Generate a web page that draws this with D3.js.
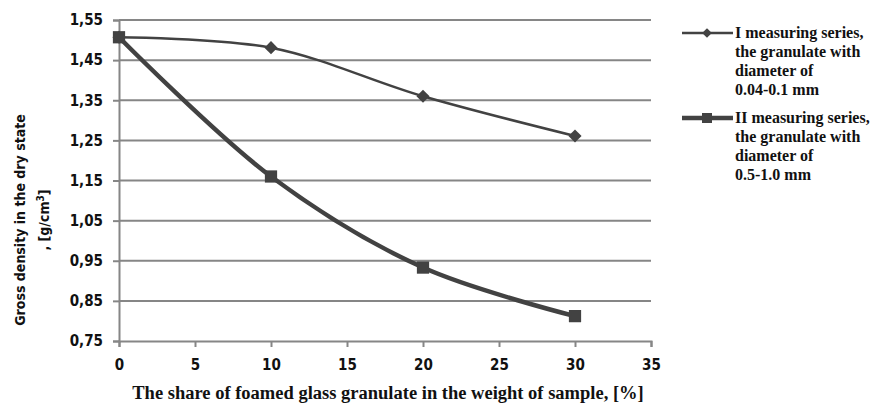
<!DOCTYPE html>
<html>
<head>
<meta charset="utf-8">
<script src="https://cdn.jsdelivr.net/npm/d3@7"></script>
<style>
  body { margin: 0; background: #fff; }
  svg text { fill: #111; }
</style>
</head>
<body>
<svg id="chart" width="870" height="405"></svg>
<script>
const shares = [0, 10, 20, 30];
const seriesOne = [1.507, 1.481, 1.36, 1.261];
const seriesTwo = [1.507, 1.16, 0.933, 0.812];
const seriesNames = [
  ["I measuring series,", "the granulate with", "diameter of", "0.04-0.1 mm"],
  ["II measuring series,", "the granulate with", "diameter of", "0.5-1.0 mm"]
];
const yTicks = [0.75, 0.85, 0.95, 1.05, 1.15, 1.25, 1.35, 1.45, 1.55];
const xTicks = [0, 5, 10, 15, 20, 25, 30, 35];

const svg = d3.select("#chart");
const ink = "#424242";
const sans = "'DejaVu Sans Condensed', 'DejaVu Sans', sans-serif";
const serif = "'Liberation Serif', serif";

const x = d3.scaleLinear().domain([0, 35]).range([119, 651]);
const y = d3.scaleLinear().domain([0.75, 1.55]).range([341, 20]);

// grid
svg.append("g")
  .selectAll("line")
  .data(yTicks.slice(1))
  .enter()
  .append("line")
  .attr("x1", x(0)).attr("x2", x(35))
  .attr("y1", d => y(d)).attr("y2", d => y(d))
  .attr("stroke", "#868686").attr("stroke-width", 2);

// axes
const yAxis = svg.append("g")
  .attr("transform", `translate(${x(0)},0)`)
  .call(d3.axisLeft(y).tickValues(yTicks).tickSize(6).tickPadding(10)
    .tickFormat(d => d3.format(".2f")(d).replace(".", ",")));
const xAxis = svg.append("g")
  .attr("transform", `translate(0,${y(0.75)})`)
  .call(d3.axisBottom(x).tickValues(xTicks).tickSize(6).tickPadding(12));

[yAxis, xAxis].forEach(a => {
  a.select(".domain").attr("stroke", "#868686").attr("stroke-width", 2);
  a.selectAll(".tick line").attr("stroke", "#868686").attr("stroke-width", 2);
  a.selectAll(".tick text")
    .attr("font-family", sans)
    .attr("font-size", 15).attr("font-weight", "bold").attr("fill", "#111");
});

// lines
const curve = d3.curveCatmullRom.alpha(0.5);
const line = d3.line().x(d => x(d[0])).y(d => y(d[1])).curve(curve);

svg.append("path")
  .datum(shares.map((s, i) => [s, seriesOne[i]]))
  .attr("d", line).attr("fill", "none")
  .attr("stroke", ink).attr("stroke-width", 2.5);
svg.append("path")
  .datum(shares.map((s, i) => [s, seriesTwo[i]]))
  .attr("d", line).attr("fill", "none")
  .attr("stroke", ink).attr("stroke-width", 4.5);

const diamond = d3.symbol().type(d3.symbolDiamond2).size(110);
const square = d3.symbol().type(d3.symbolSquare).size(150);

svg.append("g").selectAll("path")
  .data(shares.map((s, i) => [s, seriesTwo[i]]))
  .enter().append("path")
  .attr("d", square)
  .attr("transform", d => `translate(${x(d[0])},${y(d[1])})`)
  .attr("fill", ink);
svg.append("g").selectAll("path")
  .data(shares.map((s, i) => [s, seriesOne[i]]))
  .enter().append("path")
  .attr("d", diamond)
  .attr("transform", d => `translate(${x(d[0])},${y(d[1])})`)
  .attr("fill", ink);

// axis titles
svg.append("text")
  .attr("x", 388).attr("y", 399)
  .attr("text-anchor", "middle")
  .attr("font-family", serif)
  .attr("font-size", 18.5).attr("font-weight", "bold")
  .text("The share of foamed glass granulate in the weight of sample, [%]");

const yt = svg.append("text")
  .attr("transform", "translate(25,220) rotate(-90)")
  .attr("text-anchor", "middle")
  .attr("font-family", sans)
  .attr("font-size", 14).attr("font-weight", "bold");
yt.append("tspan").attr("x", 0).attr("dy", 0).text("Gross density in the dry state");
const yt2 = yt.append("tspan").attr("x", 0).attr("dy", 24).text(", [g/cm");
yt2.append("tspan").attr("dy", -5).attr("font-size", 10).text("3");
yt2.append("tspan").attr("dy", 5).text("]");

// legend
const legend = svg.append("g");
const legendY = [33, 118];
const legendSym = [diamond.size(60), square.size(100)];
const legendW = [2.5, 4.5];
seriesNames.forEach((lines, i) => {
  const g = legend.append("g").attr("transform", `translate(682,${legendY[i]})`);
  g.append("line").attr("x1", 0).attr("x2", 51).attr("y1", 0).attr("y2", 0)
    .attr("stroke", ink).attr("stroke-width", legendW[i]);
  g.append("path").attr("d", legendSym[i]).attr("transform", "translate(25,0)").attr("fill", ink);
  const t = g.append("text")
    .attr("x", 53).attr("y", 5)
    .attr("font-family", serif)
    .attr("font-size", 16).attr("font-weight", "bold");
  lines.forEach((l, j) => {
    t.append("tspan").attr("x", 53).attr("dy", j === 0 ? 0 : 19).text(l);
  });
});
</script>
</body>
</html>
